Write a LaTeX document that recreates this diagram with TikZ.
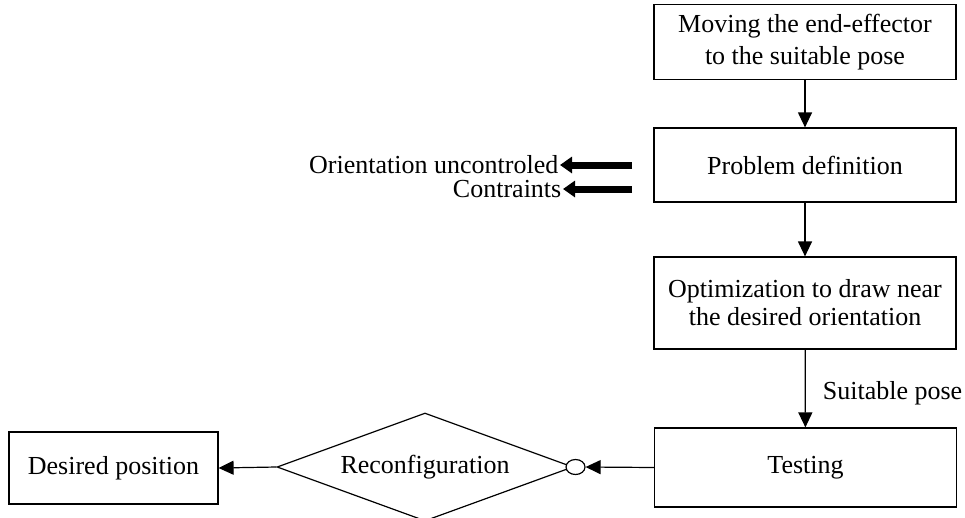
\documentclass[tikz,border=0pt]{standalone}
\usepackage{fontspec}
\setmainfont{Liberation Serif}
\usetikzlibrary{shapes.geometric,arrows.meta}
\begin{document}
\begin{tikzpicture}[x=1pt,y=-1pt,
  txt/.style={font=\fontsize{26}{30}\selectfont},
  box/.style={draw,line width=1.2pt,inner sep=0pt,align=center,txt,minimum width=302pt},
  arr/.style={line width=1.2pt,-{Triangle[length=15pt,width=14pt]}},
  fat/.style={line width=7pt,-{Triangle[length=12pt,width=16pt]}}]
\useasboundingbox (0,0) rectangle (965,517);

\node[box,minimum height=75pt,font=\fontsize{26}{32}\selectfont] (b1) at (805,42) {Moving the end-effector\\to the suitable pose};
\node[box,minimum height=74pt] (b2) at (805,165) {\raisebox{-3pt}{Problem definition}};
\node[box,minimum height=92pt,font=\fontsize{26}{28}\selectfont] (b3) at (805,303) {Optimization to draw near\\the desired orientation};
\node[box,minimum height=79pt] (b4) at (805.5,467.5) {\raisebox{4pt}{Testing}};
\node[box,minimum width=209pt,minimum height=72pt] (dp) at (113.5,468) {\raisebox{-7pt}{Desired position}};
\node[diamond,draw,line width=1.2pt,inner sep=0pt,aspect=2.74,minimum width=296pt,minimum height=108pt,txt] (dia) at (425,467) {Reconfiguration};
\node[ellipse,draw,fill=white,line width=1.2pt,minimum width=19pt,minimum height=15pt,inner sep=0pt] (circ) at (575.5,467) {};

\node[txt,anchor=east,inner sep=1.5pt] (t1) at (560,165) {Orientation uncontroled};
\node[txt,anchor=east,inner sep=1.5pt] (t2) at (563,189) {Contraints};
\coordinate (f1) at (632,165);
\coordinate (f2) at (632,189);

\draw[arr] (b1) -- (b2);
\draw[arr] (b2) -- (b3);
\draw[arr] (b3) -- node[txt,anchor=west,pos=0.56,inner sep=0pt,xshift=17pt] (sp) {Suitable pose} (b4);
\draw[arr] (b4.west) -- (circ.east);
\draw[arr] (dia.west) -- (dp.east);
\draw[fat] (f1) -- (t1.east);
\draw[fat] (f2) -- (t2.east);
\end{tikzpicture}
\end{document}
